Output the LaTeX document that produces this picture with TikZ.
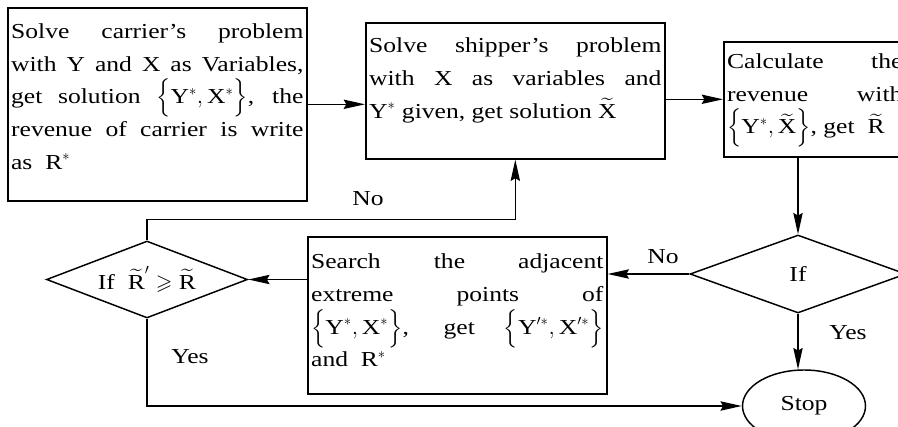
\documentclass[tikz,border=0pt]{standalone}
\usepackage{amsmath,amssymb}
\usepackage{fontspec}
\setmainfont{Liberation Serif}[FakeStretch=1.2]
\usepackage{tikz}
\usetikzlibrary{positioning,shapes.geometric,arrows.meta}
\newcommand{\proctext}[4]{\parbox[c][#1][t]{#2}{\vspace{#3}#4}}

\begin{document}
\begin{tikzpicture}[x=0.75pt, y=-0.75pt, >={Stealth[length=16pt,width=7pt,inset=2pt]},
  every node/.style={font=\fontsize{16pt}{24.5pt}\selectfont},
  procbox/.style={draw,line width=1.2pt,inner xsep=2.5pt,inner ysep=0pt,anchor=north west},
  decision/.style={draw,line width=1.1pt,diamond,aspect=2.6,inner sep=0pt},
  terminal/.style={draw,line width=1.1pt,ellipse,inner sep=0pt},
  flow/.style={->,line width=1.1pt}]
  \useasboundingbox (0,0) rectangle (898,427);
  \node (carrier) [procbox] at (7,7) {\proctext{144.75pt}{219.25pt}{12pt}{Solve carrier’s problem\linebreak with Y and X as Variables,\linebreak get solution $\Big\{\text{Y}^{*},\text{X}^{*}\Big\}$, the\linebreak revenue of carrier is write\linebreak as\ \ R$^{*}$}};
  \node (shipper) [procbox] at (365,22) {\proctext{102pt}{219.25pt}{11.5pt}{Solve shipper’s problem\linebreak with X as variables and\linebreak Y$^{*}$ given, get solution $\widetilde{\text{X}}$}};
  \node (calc) [procbox] at (723,41) {\proctext{86.25pt}{131.5pt}{9pt}{Calculate the\linebreak revenue with\linebreak $\Big\{\text{Y}^{*},\widetilde{\text{X}}\Big\}$, get\ \ $\widetilde{\text{R}}$}};
  \node (search) [procbox] at (307,236) {\proctext{117.75pt}{219.25pt}{13pt}{Search the adjacent\linebreak extreme points of\linebreak $\Big\{\text{Y}^{*},\text{X}^{*}\Big\}$, get $\Big\{\text{Y}^{\prime *},\text{X}^{\prime *}\Big\}$\linebreak and\ \ R$^{*}$}};
  \node (ifcheck) [decision,minimum width=162pt,minimum height=58.5pt] at (798,274) {If\hspace{48pt}};
  \node (ifbetter) [decision,minimum width=150.75pt,minimum height=57.75pt] at (147,279.5) {If\ \ $\widetilde{\text{R}}^{\prime}\geqslant\widetilde{\text{R}}$};
  \node (stop) [terminal,minimum width=92.25pt,minimum height=54pt] at (804,406) {Stop};
  \node (noup) at (368,199) {No};
  \node (yesleft) at (190,357) {Yes};
  \node (noleft) at (663,257) {No};
  \node (yesdown) at (848,333) {Yes};
  \draw[flow] (carrier.east) -- (carrier.east -| shipper.west);
  \draw[flow] (shipper.east |- calc.west) -- (calc.west);
  \draw[flow] (ifcheck.north |- calc.south) -- (ifcheck.north);
  \draw[flow] (ifcheck.west) -- (ifcheck.west -| search.east);
  \draw[flow] (search.west |- ifbetter.east) -- (ifbetter.east);
  \draw[flow] (ifbetter.north) -- ++(0,-21) -| (shipper.south);
  \draw[flow] (ifbetter.south) |- (stop.west);
  \draw[flow] (ifcheck.south) -- (ifcheck.south |- stop.north);
\end{tikzpicture}
\end{document}
